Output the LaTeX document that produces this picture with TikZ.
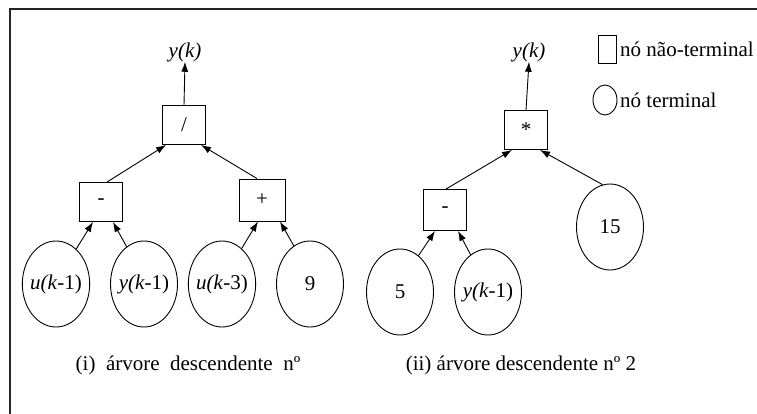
\documentclass[tikz,border=0pt]{standalone}
\usepackage{fontspec}
\setmainfont{Liberation Serif}
\usepackage{tikz}
\usetikzlibrary{shapes.geometric, arrows.meta, positioning}
\tikzset{
    opbox/.style={rectangle, draw, line width=0.9pt, minimum width=43pt, minimum height=39pt, inner sep=0pt},
    leaf/.style={ellipse, draw, line width=0.9pt, minimum width=67pt, minimum height=86pt, inner xsep=-2pt, inner ysep=0pt},
    arrow/.style={draw, line width=0.9pt, -{Latex[length=10pt,width=7pt]}},
    lbl/.style={inner sep=0pt, font=\fontsize{21}{25}\selectfont}
}

\begin{document}
\begin{tikzpicture}[x=1pt, y=-1pt, font=\fontsize{21}{25}\selectfont]
            \useasboundingbox (0,0) rectangle (757,414);
            \draw[line width=1.6pt, black!85] (10,414) -- (10,9) -- (757,9);

            % tree (i)
            \node[lbl] (yk1) at (185,52) {\textit{y(k)}};
            \node[opbox] (div) at (184,125) {/};
            \node[opbox] (minus1) at (101,202) {-};
            \node[opbox, minimum width=46pt, minimum height=42pt] (plus1) at (262,200) {+};
            \node[leaf] (u1) at (56,284) {\textit{u(k}-1)};
            \node[leaf] (y1) at (144,284) {\textit{y(k}-1)};
            \node[leaf] (u3) at (222,284) {\textit{u(k}-3)};
            \node[leaf] (nine) at (310,284) {9};
            \node[lbl] (cap1) at (188,365) {(i)\ \ árvore\ \ descendente\ \ nº};

            \path[arrow] (div.north) -- (yk1.south);
            \path[arrow] ([xshift=6pt]minus1.north) -- ([xshift=4pt]div.south west);
            \path[arrow] ([xshift=-5pt]plus1.north) -- ([xshift=-5pt]div.south east);
            \path[arrow] (u1.60) -- ([xshift=-8pt]minus1.south);
            \path[arrow] (y1.115) -- ([xshift=12pt]minus1.south);
            \path[arrow] (u3.61) -- ([xshift=-4pt]plus1.south);
            \path[arrow] (nine.113) -- ([xshift=18pt]plus1.south);

            % tree (ii)
            \node[lbl] (yk2) at (529,52) {\textit{y(k)}};
            \node[opbox] (times) at (526,130) {*};
            \node[opbox, minimum height=41pt] (minus2) at (445,210) {-};
            \node[leaf] (five) at (400,292) {5};
            \node[leaf] (y2) at (488,292) {\textit{y(k}-1)};
            \node[leaf] (fifteen) at (610,227) {15};
            \node[lbl] (cap2) at (521,365) {(ii) árvore descendente nº 2};

            \path[arrow] (times.north) -- (yk2.south);
            \path[arrow] ([xshift=1pt]minus2.north) -- ([xshift=8pt]times.south west);
            \path[arrow] (fifteen.100) -- ([xshift=14pt]times.south);
            \path[arrow] (five.63) -- ([xshift=-10pt]minus2.south);
            \path[arrow] (y2.115) -- ([xshift=13pt]minus2.south);

            % legend
            \node[rectangle, draw, line width=0.9pt, minimum width=18pt, minimum height=28pt, inner sep=0pt] (keybox) at (607,49) {};
            \node[lbl, anchor=west] (keyboxtxt) at (620,49) {nó não-terminal};
            \node[ellipse, draw, line width=0.9pt, minimum width=24pt, minimum height=30pt, inner sep=0pt] (keyleaf) at (605,100) {};
            \node[lbl, anchor=west] (keyleaftxt) at (620,100) {nó terminal};
        \end{tikzpicture}
\end{document}
